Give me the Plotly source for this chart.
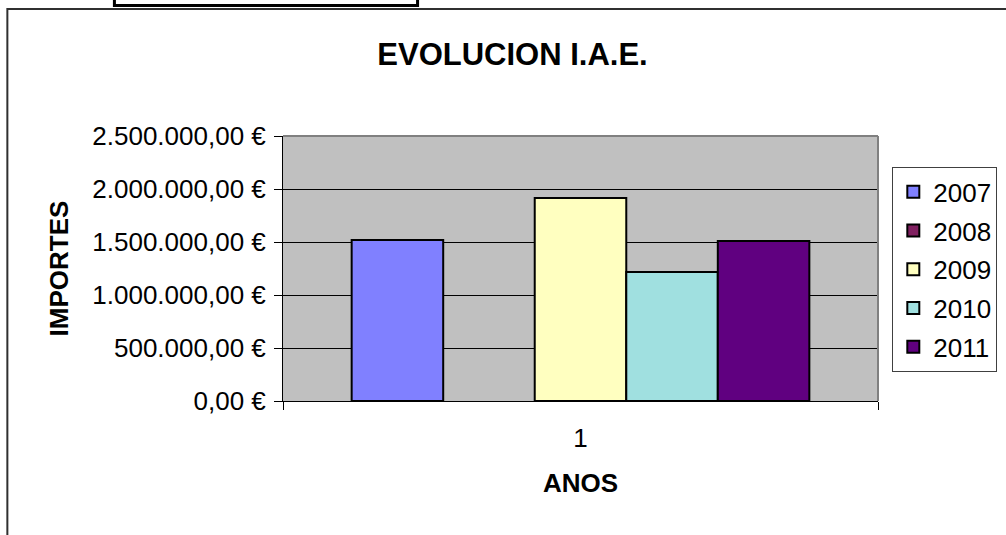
import plotly.graph_objects as go

years = ["2007", "2008", "2009", "2010", "2011"]
category = ["1"]
importes = [1519000, None, 1915000, 1217000, 1509000]
colors = ["#8080FF", "#802060", "#FFFFC0", "#A0E0E0", "#600080"]
y_ticks = [0, 500000, 1000000, 1500000, 2000000, 2500000]
y_ticktext = ["0,00 €", "500.000,00 €", "1.000.000,00 €", "1.500.000,00 €",
              "2.000.000,00 €", "2.500.000,00 €"]

W, H = 1006, 535
L, R, T, B = 283, 877.7, 135.7, 401.0
pw, ph = R - L, B - T

def px(x):
    return (x - L) / pw

def py(y):
    return (B - y) / ph

FONT = "Liberation Sans, Arial, sans-serif"
FS = 26

fig = go.Figure()
for yr, v, c in zip(years, importes, colors):
    fig.add_trace(go.Bar(
        x=category, y=[v], name=yr, legendgroup=yr,
        marker=dict(color=c, line=dict(color="black", width=2)),
    ))

fig.update_layout(
    width=W, height=H,
    margin=dict(l=L, r=W - R, t=T, b=H - B, autoexpand=False),
    paper_bgcolor="white", plot_bgcolor="#C0C0C0",
    barmode="group", bargap=0.2308, bargroupgap=0,
    separators=",.",
    font=dict(family=FONT, size=FS, color="black"),
    title=dict(text="<b>EVOLUCION I.A.E.</b>", xref="container", yref="container",
               x=512.5 / W, y=1 - 54.5 / H, xanchor="center", yanchor="middle",
               font=dict(family=FONT, size=31, color="black")),
    legend=dict(x=px(892), y=py(167), xanchor="left", yanchor="top",
                bgcolor="white", bordercolor="#404040", borderwidth=1,
                font=dict(family=FONT, size=FS, color="black"),
                tracegroupgap=2, itemclick=False),
    showlegend=True,
)

fig.update_xaxes(
    type="category", showline=True, linecolor="black", linewidth=1,
    ticks="outside", tickson="boundaries", ticklen=8, tickcolor="black",
    ticklabelstandoff=14,
    showgrid=False,
    title=dict(text="<b>ANOS</b>", font=dict(family=FONT, size=FS), standoff=21),
)
fig.update_yaxes(
    range=[0, 2500000], tickmode="array", tickvals=y_ticks, ticktext=y_ticktext,
    showline=True, linecolor="black", linewidth=1,
    ticks="outside", ticklen=8, tickcolor="black", ticklabelstandoff=3,
    showgrid=True, gridcolor="black", gridwidth=1, zeroline=False,
    title=dict(text="<b>IMPORTES</b>", font=dict(family=FONT, size=FS), standoff=16),
)

shapes = [
    # plot area gray border (top and right)
    dict(type="line", xref="paper", yref="paper", x0=0, x1=1, y0=1, y1=1,
         line=dict(color="#808080", width=2), layer="above"),
    dict(type="line", xref="paper", yref="paper", x0=1, x1=1, y0=0, y1=1,
         line=dict(color="#808080", width=2), layer="above"),
    # outer chart frame
    dict(type="rect", xref="paper", yref="paper",
         x0=px(7.5), x1=px(1015), y0=py(545), y1=py(8.5),
         line=dict(color="#303030", width=2), fillcolor="rgba(0,0,0,0)", layer="above"),
    # small box at the top
    dict(type="rect", xref="paper", yref="paper",
         x0=px(114.5), x1=px(417.5), y0=py(5), y1=py(-10),
         line=dict(color="black", width=3), fillcolor="white", layer="above"),
]
fig.update_layout(shapes=shapes)

fig.write_html("out.html", config={"displayModeBar": False},
               post_script="document.body.style.margin='0';document.body.style.overflow='hidden';")
